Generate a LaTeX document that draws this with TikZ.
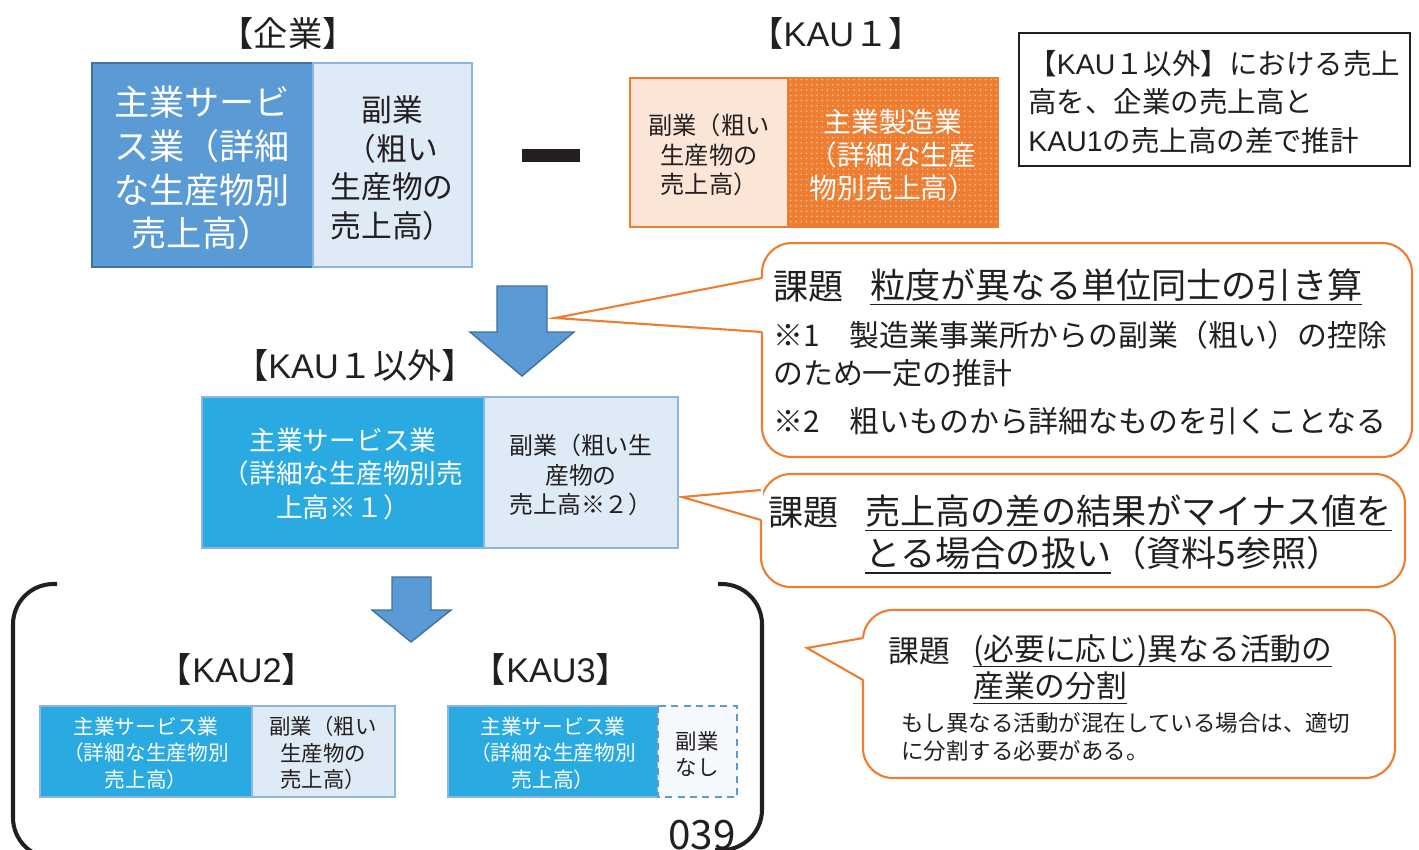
\documentclass[tikz,border=0pt]{standalone}
\usepackage{fontspec}
\setmainfont{Noto Sans CJK JP}
\newfontfamily\latfont{Liberation Sans}
\newcommand{\lat}[1]{{\latfont #1}}
\usetikzlibrary{patterns}
\definecolor{bmain}{HTML}{5B9BD5}
\definecolor{bdark}{HTML}{41719C}
\definecolor{bedge}{HTML}{8DB4E2}
\definecolor{blight}{HTML}{DEEAF6}
\definecolor{bpale}{HTML}{F5F9FD}
\definecolor{cyanf}{HTML}{29ABE2}
\definecolor{orng}{HTML}{ED7D31}
\definecolor{peach}{HTML}{FBE5D6}
\definecolor{txt}{HTML}{231F20}
\newcommand{\fsz}[2]{\fontsize{#1}{#2}\selectfont}
\newcommand{\ulx}[1]{\setbox0\hbox{#1}\rlap{\rule[-0.2em]{\wd0}{0.8pt}}\box0}
\begin{document}
\begin{tikzpicture}[x=0.02cm,y=-0.02cm,
  wtext/.style={text=white,align=center,inner sep=0pt},
  btext/.style={text=txt,align=center,inner sep=0pt},
  ltext/.style={text=txt,align=left,inner sep=0pt,anchor=west},
  lbl/.style={btext,font=\fsz{19.5}{22}},
  callout/.style={draw=orng,line width=1.2pt,fill=white,rounded corners=17pt},
  ptr/.style={draw=orng,line width=1.2pt,line join=miter},
  bigarrow/.style={draw=bdark,fill=bmain,line width=0.8pt,line join=miter},
  bracket/.style={draw=txt,line width=2.3pt,rounded corners=23pt}]
\useasboundingbox (0,0) rectangle (1419,849);
\clip (0,0) rectangle (1419,849);
\fill[white] (0,0) rectangle (1419,849);

% ---------- labels ----------
\node[lbl] (lEnt) at (288,33) {【企業】};
\node[lbl] (lK1) at (836,33) {【\lat{KAU}１】};
\node[lbl] (lK1x) at (355,365) {【\lat{KAU}１以外】};
\node[lbl] (lK2) at (237,669) {【\lat{KAU2}】};
\node[lbl] (lK3) at (551,669) {【\lat{KAU3}】};

% ---------- enterprise ----------
\draw[bdark,fill=bmain,line width=1.2pt] (92,63) rectangle (313,267);
\draw[bedge,fill=blight,line width=1pt] (313,63) rectangle (472,267);
\node[wtext,font=\fsz{20}{25}] (entMain) at (202,168) {主業サービ\\ス業（詳細\\な生産物別\\売上高）};
\node[btext,font=\fsz{17.5}{22}] (entSub) at (392,168) {副業\\（粗い\\生産物の\\売上高）};

% minus sign
\fill[txt] (522,149) rectangle (580,162);

% ---------- KAU1 ----------
\draw[orng,fill=peach,line width=1pt] (630,78) rectangle (788,227);
\fill[orng] (788,78) rectangle (998,227);
\fill[pattern=dots,pattern color=white!50!orng] (788,78) rectangle (998,227);
\draw[orng,line width=1pt] (788,78) rectangle (998,227);
\node[btext,font=\fsz{13.8}{16.7}] (k1Sub) at (709,155) {副業（粗い\\生産物の\\売上高）};
\node[wtext,font=\fsz{15.8}{18.7}] (k1Main) at (893,155) {主業製造業\\（詳細な生産\\物別売上高）};

% ---------- note box ----------
\draw[txt,line width=0.8pt] (1019,33) rectangle (1410,166);
\node[ltext,font=\fsz{16.2}{21.8}] (note) at (1028,102) {【\lat{KAU}１以外】における売上\\高を、企業の売上高と\\\lat{KAU1}の売上高の差で推計};

% ---------- callout 1 ----------
\draw[callout] (762,243) rectangle (1412,457);
\fill[white] (555,318) -- (764,278) -- (764,332) -- cycle;
\draw[ptr] (762,278) -- (555,318) -- (762,332);
\node[ltext,font=\fsz{20}{24}] (c1k) at (773,287) {課題};
\node[ltext,font=\fsz{20}{24}] (c1t) at (870,287) {\ulx{粒度が異なる単位同士の引き算}};
\node[ltext,font=\fsz{17}{20}] (c1a) at (773,335) {※1　製造業事業所からの副業（粗い）の控除};
\node[ltext,font=\fsz{17}{20}] (c1b) at (773,373) {のため一定の推計};
\node[ltext,font=\fsz{17}{20}] (c1c) at (773,421) {※2　粗いものから詳細なものを引くことなる};

% ---------- callout 2 ----------
\draw[callout] (761,474) rectangle (1405,587);
\fill[white] (682,497) -- (763,490) -- (763,520) -- cycle;
\draw[ptr] (761,490) -- (682,497) -- (761,520);
\node[ltext,font=\fsz{20}{24}] (c2k) at (768,513) {課題};
\node[ltext,font=\fsz{20}{24}] (c2t) at (865,513) {\ulx{売上高の差の結果がマイナス値を}};
\node[ltext,font=\fsz{20}{24}] (c2u) at (865,555) {\ulx{とる場合の扱い}（資料5参照）};

% ---------- callout 3 ----------
\draw[callout] (863,610) rectangle (1395,778);
\fill[white] (807,648) -- (865,638) -- (865,680) -- cycle;
\draw[ptr] (863,638) -- (807,648) -- (863,680);
\node[ltext,font=\fsz{17.5}{20}] (c3k) at (888,651) {課題};
\node[ltext,font=\fsz{17.5}{20}] (c3t) at (973,651) {\ulx{(必要に応じ)異なる活動の}};
\node[ltext,font=\fsz{17.5}{20}] (c3u) at (973,688) {\ulx{産業の分割}};
\node[ltext,font=\fsz{12.8}{16}] (c3b) at (901,737) {もし異なる活動が混在している場合は、適切\\に分割する必要がある。};

% ---------- arrow 1 ----------
\draw[bigarrow] (497,286) -- (547,286) -- (547,332) -- (574,332) -- (522,376) -- (470,332) -- (497,332) -- cycle;

% ---------- KAU1 以外 ----------
\draw[bedge,fill=cyanf,line width=1pt] (202,397) rectangle (484,548);
\draw[bedge,fill=blight,line width=1pt] (484,397) rectangle (678,548);
\node[wtext,font=\fsz{15.2}{19.3}] (xMain) at (343,474) {主業サービス業\\（詳細な生産物別売\\上高※１）};
\node[btext,font=\fsz{13.6}{17}] (xSub) at (581,475) {副業（粗い生\\産物の\\売上高※２）};

% ---------- arrow 2 ----------
\draw[bigarrow] (392,577) -- (431,577) -- (431,610) -- (451,610) -- (411,642) -- (372,610) -- (392,610) -- cycle;

% ---------- brackets ----------
\draw[bracket] (57,584) -- (13,584) -- (13,858) -- (60,858);
\draw[bracket] (718,584) -- (762,584) -- (762,850) -- (715,850);
\node[btext,font=\fsz{23}{23},anchor=base] (pg) at (702,849) {039};

% ---------- KAU2 ----------
\draw[bedge,fill=cyanf,line width=1pt] (40,706) rectangle (252,797);
\draw[bedge,fill=blight,line width=1pt] (252,706) rectangle (395,797);
\node[wtext,font=\fsz{11.8}{15}] (k2Main) at (146,753) {主業サービス業\\（詳細な生産物別\\売上高）};
\node[btext,font=\fsz{12.2}{15}] (k2Sub) at (323,753) {副業（粗い\\生産物の\\売上高）};

% ---------- KAU3 ----------
\draw[bedge,fill=cyanf,line width=1pt] (448,706) rectangle (658,797);
\draw[bmain,fill=bpale,line width=1pt,dash pattern=on 4pt off 3pt] (658,706) rectangle (737,797);
\node[wtext,font=\fsz{11.8}{15}] (k3Main) at (553,753) {主業サービス業\\（詳細な生産物別\\売上高）};
\node[btext,font=\fsz{12.2}{15}] (k3Sub) at (697,754) {副業\\なし};
\end{tikzpicture}
\end{document}
